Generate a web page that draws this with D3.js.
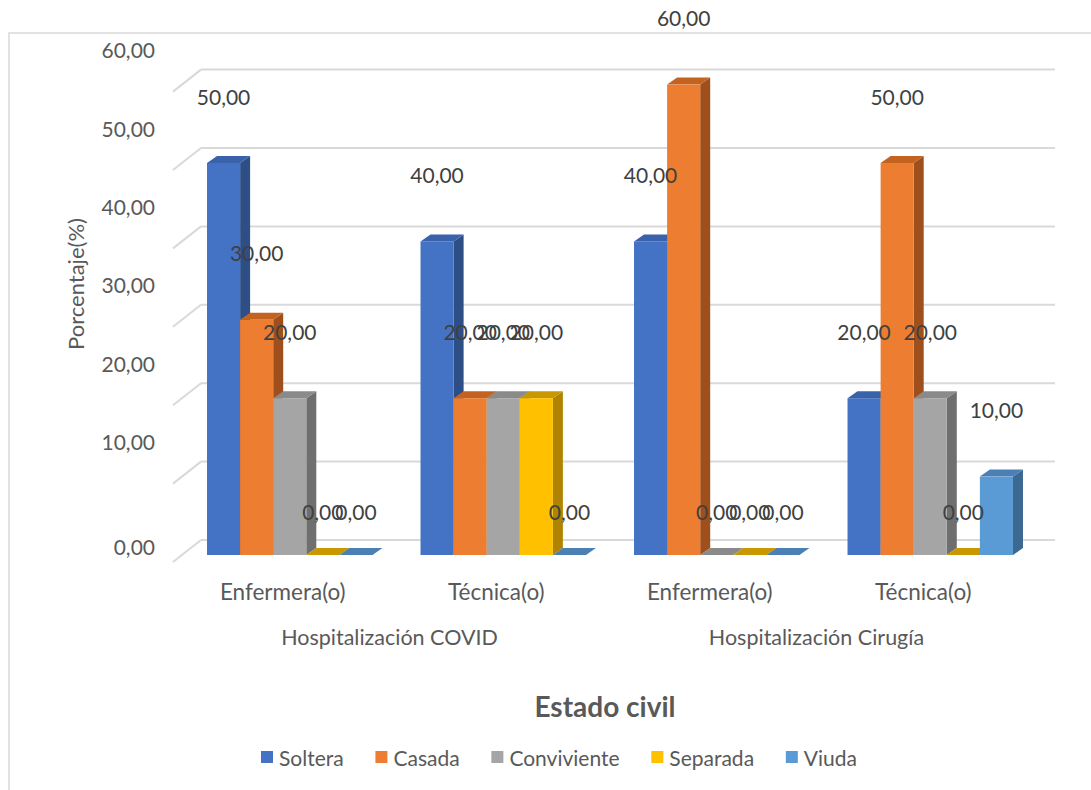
<!DOCTYPE html>
<html>
<head>
<meta charset="utf-8">
<script src="https://cdn.jsdelivr.net/npm/d3@7"></script>
<style>
  body { margin: 0; background: #ffffff; }
  svg { display: block; font-family: Lato, "Open Sans", sans-serif; }
</style>
</head>
<body>
<svg id="chart" width="1091" height="790"></svg>
<script>
// ---- data ----
const groupNames = ["Hospitalización COVID", "Hospitalización Cirugía"];
const categories = ["Enfermera(o)", "Técnica(o)", "Enfermera(o)", "Técnica(o)"];
const categoryGroup = [0, 0, 1, 1];
const series = ["Soltera", "Casada", "Conviviente", "Separada", "Viuda"];
const soltera     = [50, 40, 40, 20];
const casada      = [30, 20, 60, 50];
const conviviente = [20, 20, 0, 20];
const separada    = [0, 20, 0, 0];
const viuda       = [0, 0, 0, 10];
const yTicks = [0, 10, 20, 30, 40, 50, 60];
const yTitle = "Porcentaje(%)";
const xTitle = "Estado civil";

const values = { Soltera: soltera, Casada: casada, Conviviente: conviviente, Separada: separada, Viuda: viuda };

// face shades: front, top, side
const palette = {
  Soltera:     ["#4472C4", "#3962aa", "#2e4e86"],
  Casada:      ["#ED7D31", "#c4631f", "#9f4f1b"],
  Conviviente: ["#A5A5A5", "#8a8a8a", "#6f6f6f"],
  Separada:    ["#FFC000", "#c99800", "#b08400"],
  Viuda:       ["#5B9BD5", "#4a80b3", "#3c6992"]
};

const fmt = d3.formatLocale({ decimal: ",", thousands: ".", grouping: [3], currency: ["", ""] }).format(".2f");

const svg = d3.select("#chart");

// chart area frame
svg.append("rect")
  .attr("x", 9).attr("y", 33).attr("width", 1100).attr("height", 800)
  .attr("fill", "none").attr("stroke", "#d9d9d9").attr("stroke-width", 1.5);

// ---- scales ----
const x0 = d3.scaleBand().domain(d3.range(categories.length))
  .range([183, 1037]).paddingInner(0.225).paddingOuter(0.1125);
const x1 = d3.scaleBand().domain(series).range([0, x0.bandwidth()]);
const yFront = d3.scaleLinear().domain([0, 60]).range([555, 84.6]);
const wallShift = 15;              // back wall sits above the bar fronts
const yBack = v => yFront(v) - wallShift;
const wallDx = 28, wallDy = 22;    // side-wall depth
const barDx = 10, barDy = 7;       // bar depth
const wallLeft = 201, wallRight = 1055;

// ---- gridlines (back wall + left wall) ----
const grid = svg.append("g").attr("stroke", "#d9d9d9").attr("stroke-width", 2).attr("fill", "none");
grid.selectAll("line.h").data(yTicks).join("line").attr("class", "h")
  .attr("x1", wallLeft).attr("x2", wallRight)
  .attr("y1", d => yBack(d)).attr("y2", d => yBack(d));
grid.selectAll("line.d").data(yTicks).join("line").attr("class", "d")
  .attr("x1", wallLeft - wallDx).attr("y1", d => yBack(d) + wallDy)
  .attr("x2", wallLeft).attr("y2", d => yBack(d));

// ---- y tick labels ----
svg.append("g").selectAll("text").data(yTicks).join("text")
  .attr("x", 155)
  .attr("y", d => d === 0 ? yBack(d) + 6 : yBack(d) - 20)
  .attr("text-anchor", "end").attr("dominant-baseline", "central")
  .attr("font-size", 21).attr("fill", "#595959")
  .text(d => fmt(d));

// ---- bars ----
const bars = [];
categories.forEach((c, i) => {
  series.forEach(s => bars.push({ i, s, v: values[s][i] }));
});

const barG = svg.append("g");
bars.forEach(b => {
  const x = x0(b.i) + x1(b.s), w = x1.bandwidth();
  const yt = yFront(b.v), yb = yFront(0);
  const [cf, ct, cs] = palette[b.s];
  const g = barG.append("g");
  g.append("polygon").attr("fill", cs)
    .attr("points", [[x + w, yt], [x + w + barDx, yt - barDy], [x + w + barDx, yb - barDy], [x + w, yb]].join(" "));
  g.append("polygon").attr("fill", ct)
    .attr("points", [[x, yt], [x + barDx, yt - barDy], [x + w + barDx, yt - barDy], [x + w, yt]].join(" "));
  g.append("rect").attr("fill", cf)
    .attr("x", x).attr("y", yt).attr("width", w).attr("height", yb - yt);
});

// ---- data labels ----
svg.append("g").selectAll("text").data(bars).join("text")
  .attr("x", d => x0(d.i) + x1(d.s) + x1.bandwidth() / 2)
  .attr("y", d => d.v > 0 ? yFront(d.v) - 67 : yFront(0) - 44)
  .attr("text-anchor", "middle").attr("dominant-baseline", "central")
  .attr("font-size", 21).attr("fill", "#404040")
  .text(d => fmt(d.v));

// ---- category and group labels ----
svg.append("g").selectAll("text").data(categories).join("text")
  .attr("x", (d, i) => x0(i) + x0.bandwidth() / 2 - 7)
  .attr("y", 591)
  .attr("text-anchor", "middle").attr("dominant-baseline", "central")
  .attr("font-size", 22.5).attr("fill", "#595959")
  .text(d => d);

svg.append("g").selectAll("text").data(groupNames).join("text")
  .attr("x", (d, gi) => {
    const idx = categoryGroup.map((g, i) => g === gi ? i : -1).filter(i => i >= 0);
    return d3.mean(idx, i => x0(i) + x0.bandwidth() / 2 - 7);
  })
  .attr("y", 637)
  .attr("text-anchor", "middle").attr("dominant-baseline", "central")
  .attr("font-size", 21.5).attr("fill", "#595959")
  .text(d => d);

// ---- axis titles ----
svg.append("text")
  .attr("transform", "translate(75,284) rotate(-90)")
  .attr("text-anchor", "middle").attr("dominant-baseline", "central")
  .attr("font-size", 22).attr("fill", "#595959")
  .text(yTitle);

svg.append("text")
  .attr("x", 605).attr("y", 706)
  .attr("text-anchor", "middle").attr("dominant-baseline", "central")
  .attr("font-size", 28).attr("font-weight", "bold").attr("fill", "#595959")
  .text(xTitle);

// ---- legend ----
const legend = svg.append("g");
const sq = 12, gapText = 6;
const items = legend.selectAll("g").data(series).join("g");
items.append("rect").attr("width", sq).attr("height", sq).attr("y", -sq / 2)
  .attr("fill", d => palette[d][0]);
items.append("text").attr("x", sq + gapText)
  .attr("dominant-baseline", "central")
  .attr("font-size", 21).attr("fill", "#595959")
  .text(d => d);
const widths = [];
items.each(function () { widths.push(sq + gapText + d3.select(this).select("text").node().getComputedTextLength()); });
const legendLeft = 261, legendRight = 857;
const spacing = (legendRight - legendLeft - d3.sum(widths)) / (series.length - 1);
let cx = legendLeft;
items.attr("transform", (d, i) => {
  const t = `translate(${cx},757)`;
  cx += widths[i] + spacing;
  return t;
});
</script>
</body>
</html>
